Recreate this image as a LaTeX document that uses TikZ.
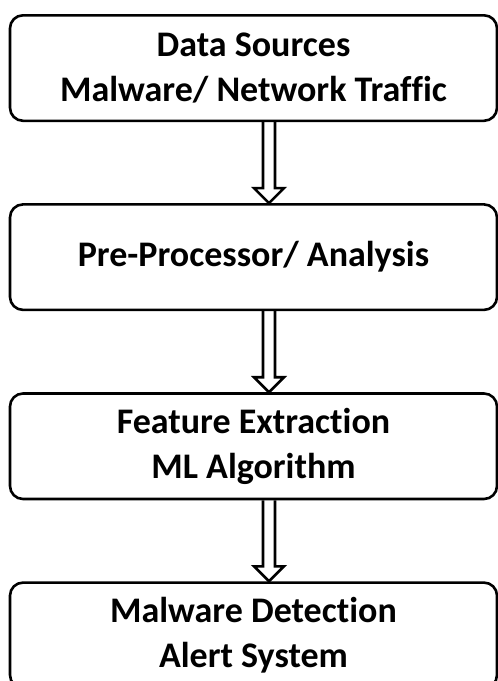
\documentclass[tikz,border=0pt]{standalone}
\usepackage{fontspec}
\setmainfont{Carlito}[Ligatures=NoCommon]
\usetikzlibrary{positioning,calc}

\begin{document}
\begin{tikzpicture}[
    x=1pt, y=1pt,
    node distance=81pt, % Vertical gap between boxes
    block/.style={rectangle, draw, line width=2.6pt, rounded corners=13pt, minimum width=487pt, minimum height=105.5pt, align=center, font=\fontsize{36}{45}\selectfont\bfseries},
    hollow/.style={draw, line width=2.6pt, line join=miter, to path={
        let \p1=(\tikztostart), \p2=(\tikztotarget) in
        (\x1+6,\y1) -- (\x1+6,\y2+15) -- (\x1+15,\y2+15) -- (\x1,\y2) -- (\x1-15,\y2+15) -- (\x1-6,\y2+15) -- (\x1-6,\y1)}} % Outlined block arrow
]
    \useasboundingbox (0,0) rectangle (498,-681);

    % Nodes
    \node (sources) [block, anchor=north] at (253.5,-14) {Data Sources\\Malware/ Network Traffic};
    \node (preproc) [block, below=of sources] {Pre-Processor/ Analysis};
    \node (feature) [block, below=of preproc] {Feature Extraction\\ML Algorithm};
    \node (detect) [block, below=of feature] {Malware Detection\\Alert System};

    % Connections
    \path [hollow] ([xshift=15.5pt]sources.south) to ([xshift=15.5pt]preproc.north);
    \path [hollow] ([xshift=15.5pt]preproc.south) to ([xshift=15.5pt]feature.north);
    \path [hollow] ([xshift=15.5pt]feature.south) to ([xshift=15.5pt]detect.north);

\end{tikzpicture}
\end{document}
